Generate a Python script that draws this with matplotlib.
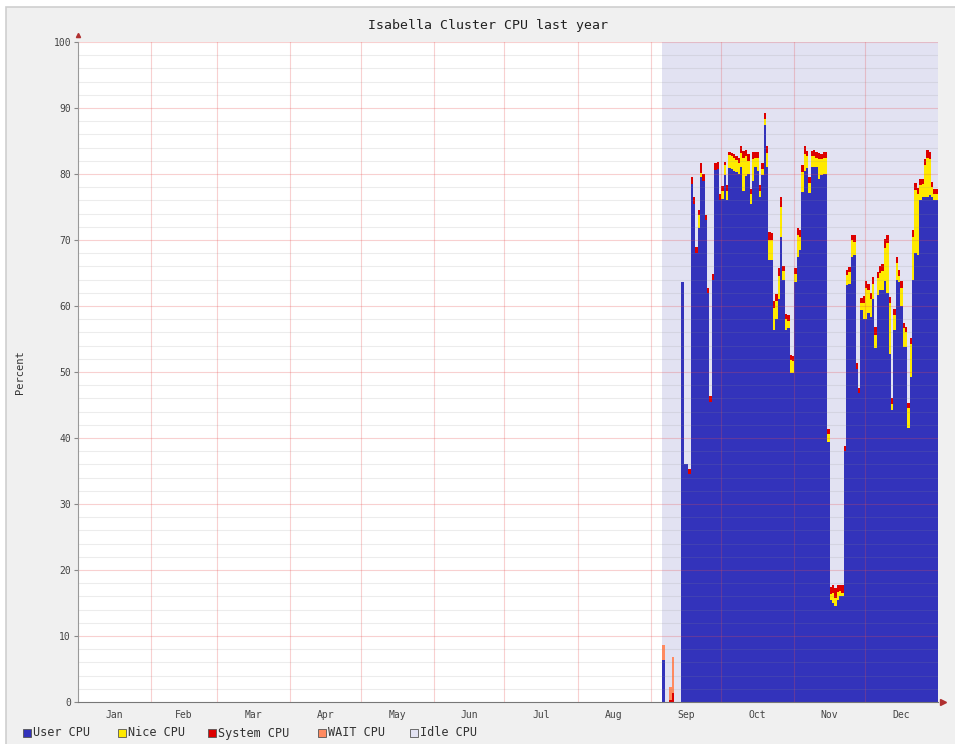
import numpy as np
import matplotlib
matplotlib.use("Agg")
from matplotlib import pyplot as plt
from matplotlib.patches import Rectangle

# daily values, day-of-year 248 .. 364 (no data before that)
first_day = 248
user = [6.4, 0, 0, 0, 0, 0, 0, 0, 63.7, 36,
        36, 34.5, 78.5, 75.5, 68, 71.8, 79.6, 79, 73, 62,
        45.5, 64, 80.6, 80.8, 76, 76.2, 79.8, 76, 80.9, 80.7,
        80.5, 80.3, 80, 81, 77.5, 79.7, 80, 75.5, 79, 81,
        80.5, 76.5, 79.8, 87.4, 81, 67, 67, 56.4, 58, 61,
        70.5, 64, 56.4, 56.6, 49.8, 49.8, 63.7, 67.5, 68.5, 77.3,
        80.5, 80.9, 77.1, 81, 81, 81, 79.3, 79.8, 80, 80,
        39.4, 15.5, 15, 14.5, 15.5, 16, 16, 38, 63.2, 63.3,
        67.5, 67.7, 50.5, 46.8, 59.4, 58, 58, 58.9, 58.4, 61,
        53.6, 61.7, 62.5, 62.5, 63.8, 62, 52.8, 44.2, 56.4, 63.9,
        63.6, 60, 53.8, 53.8, 41.5, 49.3, 64, 68, 67.7, 76,
        76.5, 76.5, 76.5, 76.8, 76.5, 76, 76]
nice = [0, 0, 0, 0, 0, 0, 0, 0, 0, 0,
        0, 0, 0, 0, 0, 2, 0.5, 0, 0, 0,
        0, 0, 0, 0, 0, 1.2, 1.5, 1.5, 2, 2,
        2, 1.8, 1.6, 2.2, 5, 3, 2, 1.5, 3.3, 1.5,
        2, 1, 1, 1, 2.2, 3, 3, 3.3, 2.8, 3.5,
        4.5, 1.3, 1.6, 1.2, 2, 1.8, 1.2, 3.3, 2, 3,
        2.5, 1.8, 1.6, 1.7, 1.8, 1.5, 3, 2.5, 2.5, 2.5,
        1.2, 0.8, 1.5, 1.3, 1.2, 0.8, 0.5, 0, 1.5, 1.8,
        2.5, 2, 0, 0, 1, 2.5, 4.8, 3.5, 2.6, 2.4,
        2, 2.5, 2.5, 2.8, 5, 7.5, 7.6, 1, 2.3, 2.6,
        1, 2.8, 2.8, 2.2, 3, 5, 6.5, 9.6, 9.2, 2.3,
        2, 4.8, 6, 5.5, 1.5, 1, 1]
system = [0, 0, 0, 0.3, 1.3, 0, 0, 0, 0, 0,
          0, 0.8, 1, 1, 1, 0.8, 1.5, 1, 0.8, 0.8,
          0.8, 0.8, 1, 1, 1, 0.8, 0.5, 0.8, 0.5, 0.5,
          0.6, 0.6, 0.8, 1, 1, 1, 1, 0.8, 1, 0.8,
          0.8, 0.8, 0.8, 0.8, 1, 1.2, 1, 1, 1, 1.2,
          1.5, 0.8, 0.8, 0.8, 0.8, 0.8, 0.8, 1, 1, 1,
          1.2, 0.8, 0.8, 0.8, 0.8, 0.8, 0.9, 0.8, 0.8, 0.8,
          0.8, 1.2, 1.2, 1.5, 1, 1, 1.2, 0.8, 0.8, 0.8,
          0.8, 1, 0.8, 0.8, 0.8, 1, 1, 1, 1, 1,
          1.2, 1, 1, 1, 1.3, 1.3, 1, 0.8, 0.8, 1,
          0.8, 1, 0.9, 0.8, 0.8, 0.8, 1, 1, 1, 1,
          0.8, 1, 1.2, 1, 0.8, 0.8, 0.8]
wait = [2.2, 0, 0, 2.0, 5.5] + [0] * 112

months = ['Jan', 'Feb', 'Mar', 'Apr', 'May', 'Jun',
          'Jul', 'Aug', 'Sep', 'Oct', 'Nov', 'Dec']
month_start = [0, 31, 59, 90, 120, 151, 181, 212, 243, 273, 304, 334, 365]

colors = {'User CPU': '#3333bb', 'Nice CPU': '#ffea00', 'System CPU': '#dd0000',
          'WAIT CPU': '#ff8a60', 'Idle CPU': '#e2e2f2'}

W, H = 955, 744
fig = plt.figure(figsize=(W / 100, H / 100), dpi=100, facecolor='white')
# grey canvas with light shade on top/left
fig.add_artist(Rectangle((6 / W, -0.05), 1.1, 1.05 - 7 / H, transform=fig.transFigure,
                         facecolor='#f0f0f0', edgecolor='#cfcfcf', lw=1.2, zorder=-10))

ax = fig.add_axes([78 / W, 1 - 702 / H, 860 / W, 660 / H])
ax.set_facecolor('white')

days = np.arange(first_day, first_day + len(user))
u = np.array(user)
n = np.array(nice)
s = np.array(system)
w = np.array(wait)
idle = 100 - (u + n + s + w)

bottom = np.zeros(len(days))
for vals, name in [(u, 'User CPU'), (n, 'Nice CPU'), (s, 'System CPU'),
                   (w, 'WAIT CPU'), (idle, 'Idle CPU')]:
    ax.bar(days, vals, width=1.0, bottom=bottom, align='edge',
           color=colors[name], linewidth=0, zorder=1)
    bottom = bottom + vals

ax.set_xlim(0, 365)
ax.set_ylim(0, 100)

# grid drawn over the data, like rrdtool
for yv in range(2, 100, 2):
    if yv % 10:
        ax.axhline(yv, color=(0.55, 0.55, 0.55, 0.16), lw=0.8, zorder=3)
for yv in range(10, 101, 10):
    ax.axhline(yv, color=(0.9, 0.3, 0.3, 0.26), lw=0.8, zorder=3)
for xv in month_start[1:-1]:
    ax.axvline(xv, color=(0.9, 0.3, 0.3, 0.26), lw=0.8, zorder=3)

ax.set_yticks(range(0, 101, 10))
ax.set_yticklabels([str(v) for v in range(0, 101, 10)],
                   fontsize=7, family='DejaVu Sans Mono', color='#444444')
ax.tick_params(axis='y', length=3, width=0.8, color='#888888', pad=2)

mid = [(a + b) / 2 for a, b in zip(month_start[:-1], month_start[1:])]
ax.set_xticks(mid)
ax.set_xticklabels(months, fontsize=7, family='DejaVu Sans Mono', color='#444444')
ax.tick_params(axis='x', length=0, pad=6)

for side in ['top', 'right']:
    ax.spines[side].set_visible(False)
ax.spines['left'].set_color('#999999')
ax.spines['bottom'].set_color('#777777')
ax.spines['left'].set_zorder(4)
ax.spines['bottom'].set_zorder(4)

# little arrow heads at the axis ends
ax.plot([367], [0], marker='>', color='#b03030', markersize=4, clip_on=False, zorder=5)
ax.plot([0], [101], marker='^', color='#b03030', markersize=3, clip_on=False, zorder=5)

fig.text(488 / W, 1 - 25 / H, 'Isabella Cluster CPU last year', ha='center', va='center',
         fontsize=9.5, family='DejaVu Sans Mono', color='#222222')
fig.text(20 / W, 1 - 372 / H, 'Percent', rotation=90, ha='center', va='center',
         fontsize=7.5, family='DejaVu Sans Mono', color='#333333')

# legend row at the bottom
legend_x = [23, 118, 208, 318, 410]
for lx, (name, col) in zip(legend_x, colors.items()):
    fig.add_artist(Rectangle((lx / W, 1 - 737 / H), 8 / W, 8 / H, transform=fig.transFigure,
                             facecolor=col, edgecolor='#555555', lw=0.6))
    fig.text((lx + 10) / W, 1 - 733 / H, name, ha='left', va='center',
             fontsize=8.5, family='DejaVu Sans Mono', color='#333333')

fig.savefig('out.png', dpi=100, facecolor=fig.get_facecolor())
